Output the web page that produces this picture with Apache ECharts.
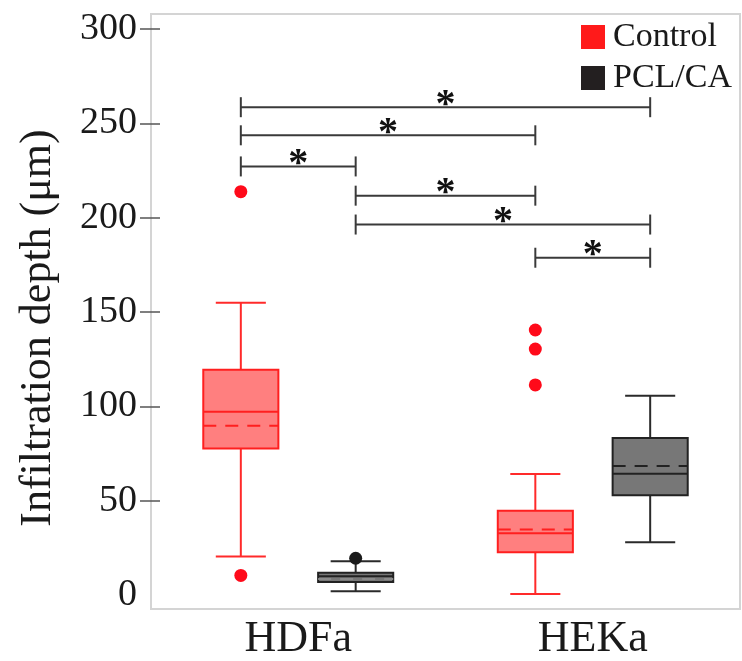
<!DOCTYPE html>
<html>
<head>
<meta charset="utf-8">
<script src="https://cdn.jsdelivr.net/npm/echarts@6/dist/echarts.min.js"></script>
<style>html,body{margin:0;padding:0;background:#fff;}#c{width:742px;height:661px;}</style>
</head>
<body>
<div id="c"></div>
<script>
// ---- data ----
const categories = ['HDFa', 'HEKa'];
const groups = ['Control', 'PCL/CA'];
const yTicks = [0, 50, 100, 150, 200, 250, 300];
const yTitle = 'Infiltration depth (μm)';
// [min, Q1, median, Q3, max] per category
const controlBox = [[20.4, 77.7, 97.2, 119.4, 154.9], [0.5, 22.7, 32.7, 44.7, 64.2]];
const controlMean = [89.7, 34.8];
const pclBox = [[2.0, 6.9, 10.0, 11.8, 17.9], [28.0, 52.9, 64.3, 83.3, 105.6]];
const pclMean = [8.5, 68.4];
// [category index, value]
const controlOutliers = [[0, 213.8], [0, 10.4], [1, 140.5], [1, 130.4], [1, 111.4]];
const pclOutliers = [[0, 19.5]];
// significance brackets: [from box, to box, level]; box = category*2 + group
const brackets = [[0, 3, 258.6], [0, 2, 243.7], [0, 1, 227.2], [1, 2, 211.7], [1, 3, 196.4], [2, 3, 178.8]];
const sigLabel = '*';

// ---- styling ----
const FONT = '"Liberation Serif", "Times New Roman", serif';
const OFFSET = 0.195, BOXW = 0.255, CAPW = 0.17;
const styles = [
  {fill: '#ff7f7f', stroke: '#ff1f1f', whisker: '#ff2a2a', dot: '#ff0a1a', legend: '#ff1a1a'},
  {fill: '#777777', stroke: '#222222', whisker: '#2a2a2a', dot: '#1a1a1a', legend: '#231f20'}
];

function boxRenderer(gi) {
  const st = styles[gi];
  const side = gi === 0 ? -OFFSET : OFFSET;
  return function (params, api) {
    const cat = api.value(0);
    const band = api.size([1, 0])[0];
    const cx = api.coord([cat, 0])[0] + side * band;
    const y = v => api.coord([cat, v])[1];
    const bw = BOXW * band, cw = CAPW * band;
    const mn = y(api.value(1)), q1 = y(api.value(2)), md = y(api.value(3)), q3 = y(api.value(4)), mx = y(api.value(5)), me = y(api.value(6));
    const ls = {stroke: st.whisker, lineWidth: 2};
    return {
      type: 'group',
      children: [
        {type: 'line', shape: {x1: cx, y1: mx, x2: cx, y2: q3}, style: ls},
        {type: 'line', shape: {x1: cx, y1: q1, x2: cx, y2: mn}, style: ls},
        {type: 'line', shape: {x1: cx - cw / 2, y1: mx, x2: cx + cw / 2, y2: mx}, style: ls},
        {type: 'line', shape: {x1: cx - cw / 2, y1: mn, x2: cx + cw / 2, y2: mn}, style: ls},
        {type: 'rect', shape: {x: cx - bw / 2, y: q3, width: bw, height: q1 - q3}, style: {fill: st.fill, stroke: st.stroke, lineWidth: 2}},
        {type: 'line', shape: {x1: cx - bw / 2, y1: md, x2: cx + bw / 2, y2: md}, style: {stroke: st.stroke, lineWidth: 2}},
        {type: 'line', shape: {x1: cx - bw / 2, y1: me, x2: cx + bw / 2, y2: me}, style: {stroke: gi === 1 && api.value(0) === 0 ? '#8a8a8a' : st.stroke, lineWidth: 2, lineDash: [13, 9]}}
      ]
    };
  };
}

function dotRenderer(gi) {
  const st = styles[gi];
  const side = gi === 0 ? -OFFSET : OFFSET;
  return function (params, api) {
    const cat = api.value(0);
    const band = api.size([1, 0])[0];
    const p = api.coord([cat, api.value(1)]);
    return {type: 'circle', shape: {cx: p[0] + side * band, cy: p[1], r: 6.5}, style: {fill: st.dot}};
  };
}

function bracketRenderer(params, api) {
  const from = api.value(0), to = api.value(1), lev = api.value(2);
  const band = api.size([1, 0])[0];
  const bx = i => api.coord([Math.floor(i / 2), 0])[0] + (i % 2 === 0 ? -OFFSET : OFFSET) * band;
  const x1 = bx(from), x2 = bx(to);
  const yy = api.coord([0, lev])[1];
  const ls = {stroke: '#3a3a3a', lineWidth: 2};
  return {
    type: 'group',
    children: [
      {type: 'line', shape: {x1: x1, y1: yy, x2: x2, y2: yy}, style: ls},
      {type: 'line', shape: {x1: x1, y1: yy - 10, x2: x1, y2: yy + 10}, style: ls},
      {type: 'line', shape: {x1: x2, y1: yy - 10, x2: x2, y2: yy + 10}, style: ls},
      {type: 'text', x: (x1 + x2) / 2, y: yy - 2, style: {text: sigLabel, fill: '#111', font: 'bold 40px ' + FONT, align: 'center', verticalAlign: 'middle'}}
    ]
  };
}

const chart = echarts.init(document.getElementById('c'), null, {renderer: 'canvas'});
chart.setOption({
  animation: false,
  backgroundColor: '#fff',
  grid: {left: 151, right: 2, top: 14, bottom: 49, show: true, borderColor: '#d4d4d4', borderWidth: 2},
  legend: {
    orient: 'vertical', left: 581, top: 20, padding: 0, itemWidth: 24, itemHeight: 24, itemGap: 7,
    icon: 'rect',
    textStyle: {fontFamily: FONT, fontSize: 34, color: '#1a1a1a', padding: [0, 0, 0, 3]},
    data: [{name: groups[0], itemStyle: {color: styles[0].legend}}, {name: groups[1], itemStyle: {color: styles[1].legend}}]
  },
  graphic: [{
    type: 'text', x: 38, y: 328, rotation: Math.PI / 2, silent: true,
    style: {text: yTitle, font: '44px ' + FONT, fill: '#1a1a1a', align: 'center', verticalAlign: 'middle'}
  }],
  xAxis: {
    type: 'category', data: categories,
    axisLine: {show: true, onZero: false, lineStyle: {color: '#d4d4d4', width: 2}},
    axisTick: {show: false},
    axisLabel: {fontFamily: FONT, fontSize: 44, color: '#1a1a1a', margin: 8}
  },
  yAxis: [{
    type: 'value', min: -7.4, max: 308,
    axisLine: {show: true, lineStyle: {color: '#d4d4d4', width: 2}},
    axisTick: {show: true, length: 11, customValues: yTicks.slice(1), lineStyle: {color: '#555', width: 1.5}},
    axisLabel: {customValues: yTicks, fontFamily: FONT, fontSize: 38, color: '#1a1a1a', margin: 14},
    splitLine: {show: false}
  }, {
    type: 'value', min: -7.4, max: 308, position: 'left',
    axisLine: {show: false},
    axisTick: {show: true, inside: true, length: 9, customValues: yTicks.slice(1), lineStyle: {color: '#555', width: 1.5}},
    axisLabel: {show: false}, splitLine: {show: false}
  }],
  series: [
    {name: groups[0], type: 'custom', renderItem: boxRenderer(0), itemStyle: {color: styles[0].legend},
      data: controlBox.map((b, i) => [i].concat(b, [controlMean[i]])), encode: {x: 0, y: [1, 2, 3, 4, 5, 6]}, z: 3},
    {name: groups[1], type: 'custom', renderItem: boxRenderer(1), itemStyle: {color: styles[1].legend},
      data: pclBox.map((b, i) => [i].concat(b, [pclMean[i]])), encode: {x: 0, y: [1, 2, 3, 4, 5, 6]}, z: 3},
    {name: groups[0], type: 'custom', renderItem: dotRenderer(0), itemStyle: {color: styles[0].legend},
      data: controlOutliers, encode: {x: 0, y: 1}, z: 4},
    {name: groups[1], type: 'custom', renderItem: dotRenderer(1), itemStyle: {color: styles[1].legend},
      data: pclOutliers, encode: {x: 0, y: 1}, z: 4},
    {name: 'sig', type: 'custom', renderItem: bracketRenderer, data: brackets, encode: {y: 2}, z: 5, silent: true}
  ]
});
</script>
</body>
</html>
